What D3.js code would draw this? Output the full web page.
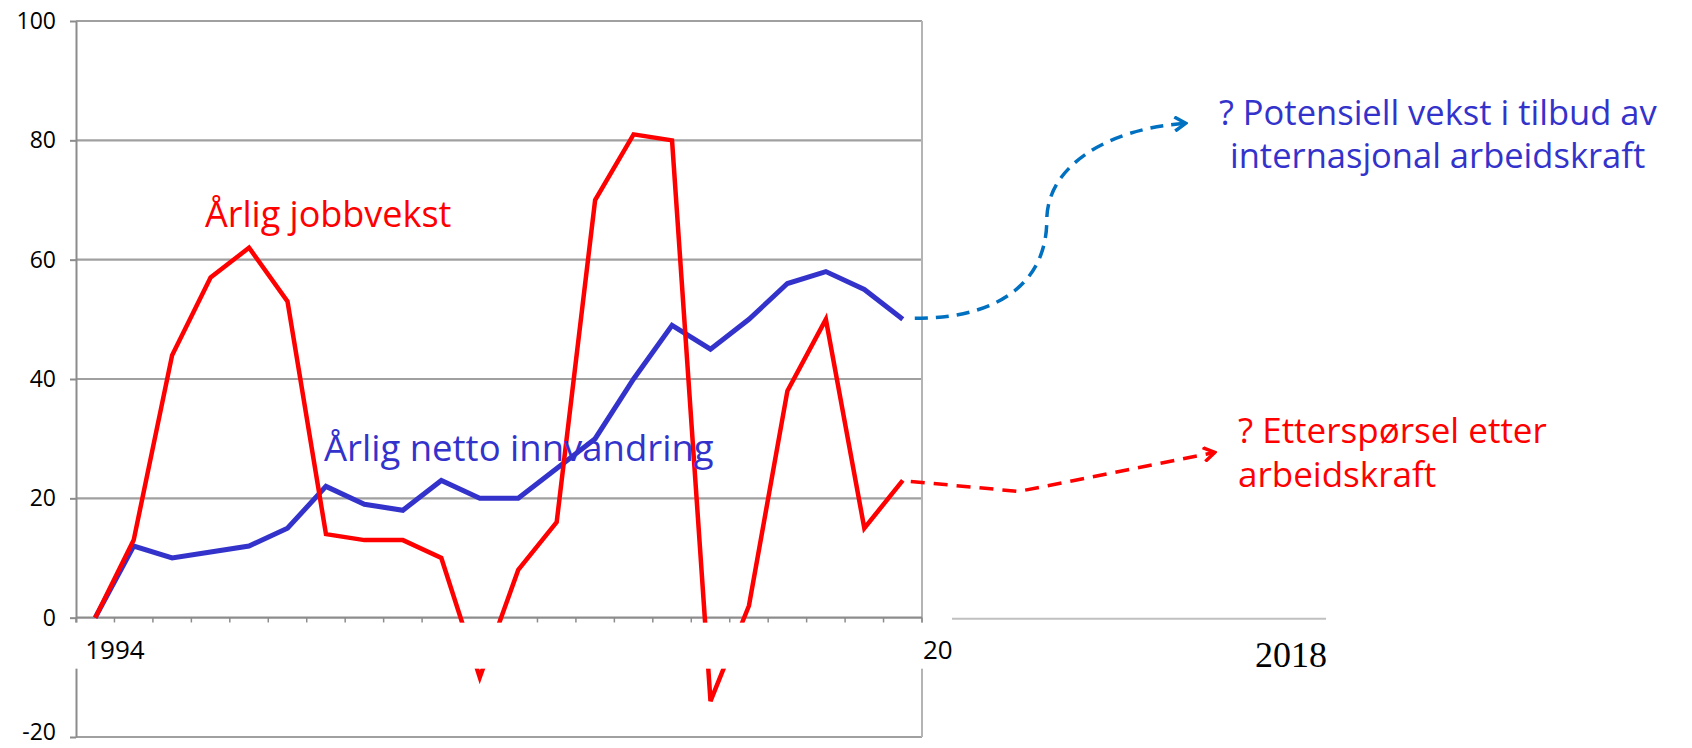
<!DOCTYPE html>
<html>
<head>
<meta charset="utf-8">
<script src="https://cdn.jsdelivr.net/npm/d3@7"></script>
<style>
  body { margin: 0; background: #fff; }
  text { font-family: "Open Sans", "Noto Sans", sans-serif; }
</style>
</head>
<body>
<div id="chart"></div>
<script>
const years = [1994, 1995, 1996, 1997, 1998, 1999, 2000, 2001, 2002, 2003, 2004,
  2005, 2006, 2007, 2008, 2009, 2010, 2011, 2012, 2013, 2014, 2015];
const jobGrowth = [0, 13, 44, 57, 62, 53, 14, 13, 13, 10, -10, 8, 16, 70, 81, 80,
  -14, 2, 38, 50, 15, 23];
const netImmigration = [0, 12, 10, 11, 12, 15, 22, 19, 18, 23, 20, 20, 25, 30, 40,
  49, 45, 50, 56, 58, 55, 50];
const yTicks = [-20, 0, 20, 40, 60, 80, 100];

const width = 1692,
  height = 748;
const plot = { left: 76, right: 922, top: 21, bottom: 737 };

const x = d3.scaleBand().domain(years).range([plot.left, plot.right]);
const cx = (d) => x(d) + x.bandwidth() / 2;
const y = d3.scaleLinear().domain([-20, 100]).range([plot.bottom, plot.top]);

const svg = d3
  .select("#chart")
  .append("svg")
  .attr("width", width)
  .attr("height", height);

const defs = svg.append("defs");
const addArrow = (id, color) => {
  defs
    .append("marker")
    .attr("id", id)
    .attr("viewBox", "-12 -8 14 16")
    .attr("markerWidth", 14)
    .attr("markerHeight", 16)
    .attr("markerUnits", "userSpaceOnUse")
    .attr("refX", 0)
    .attr("refY", 0)
    .attr("orient", "auto")
    .append("path")
    .attr("d", "M-11,-7L0,0L-11,7")
    .attr("fill", "none")
    .attr("stroke", color)
    .attr("stroke-width", 3.5);
};
addArrow("arrowBlue", "#0070c0");
addArrow("arrowRed", "#ff0000");

// grid lines
svg
  .selectAll(".grid")
  .data(yTicks.filter((d) => d !== 0))
  .enter()
  .append("line")
  .attr("class", "grid")
  .attr("x1", plot.left)
  .attr("x2", plot.right)
  .attr("y1", (d) => y(d))
  .attr("y2", (d) => y(d))
  .attr("stroke", "#a0a0a0")
  .attr("stroke-width", 2.2);

// right plot border
svg
  .append("line")
  .attr("x1", plot.right)
  .attr("x2", plot.right)
  .attr("y1", plot.top)
  .attr("y2", plot.bottom)
  .attr("stroke", "#b4b4b4")
  .attr("stroke-width", 2);

// y axis
const yAxis = svg
  .append("g")
  .attr("transform", `translate(${plot.left},0)`)
  .call(
    d3
      .axisLeft(y)
      .tickValues(yTicks)
      .tickFormat((d) => String(d))
      .tickSize(6)
      .tickSizeOuter(0)
      .tickPadding(14)
  );
yAxis.select(".domain").attr("stroke", "#8c8c8c").attr("stroke-width", 2);
yAxis.selectAll(".tick line").attr("stroke", "#8c8c8c").attr("stroke-width", 2);
yAxis
  .selectAll(".tick text")
  .attr("font-family", "Open Sans")
  .attr("font-size", 23)
  .attr("fill", "#000")
  .attr("dy", (d) => (d === -20 ? "0.12em" : "0.32em"));

// zero axis with category ticks
svg
  .append("line")
  .attr("x1", plot.left)
  .attr("x2", plot.right)
  .attr("y1", y(0))
  .attr("y2", y(0))
  .attr("stroke", "#8c8c8c")
  .attr("stroke-width", 2.2);
svg
  .selectAll(".xtick")
  .data(years.concat(["end"]))
  .enter()
  .append("line")
  .attr("class", "xtick")
  .attr("x1", (d) => (d === "end" ? plot.right : x(d)))
  .attr("x2", (d) => (d === "end" ? plot.right : x(d)))
  .attr("y1", y(0))
  .attr("y2", y(0) + 5)
  .attr("stroke", "#8c8c8c")
  .attr("stroke-width", 1.5);

// series
const line = (values) =>
  d3
    .line()
    .x((d, i) => cx(years[i]))
    .y((d) => y(d))(values);

svg
  .append("path")
  .attr("d", line(netImmigration))
  .attr("fill", "none")
  .attr("stroke", "#3333cc")
  .attr("stroke-width", 5);

svg
  .append("path")
  .attr("d", line(jobGrowth))
  .attr("fill", "none")
  .attr("stroke", "#ff0000")
  .attr("stroke-width", 4.5);

// white band hiding the category axis
svg
  .append("rect")
  .attr("x", 60)
  .attr("y", y(0) + 5)
  .attr("width", 1300)
  .attr("height", 46)
  .attr("fill", "#fff");

// extended zero line to 2018
svg
  .append("line")
  .attr("x1", plot.right + 30)
  .attr("x2", plot.right + 404)
  .attr("y1", y(0) + 1)
  .attr("y2", y(0) + 1)
  .attr("stroke", "#c0c0c0")
  .attr("stroke-width", 2);

svg
  .append("text")
  .attr("x", cx(years[0]) - 10)
  .attr("y", 659)
  .attr("font-size", 26)
  .text(years[0]);
svg
  .append("text")
  .attr("x", plot.right + 1)
  .attr("y", 659)
  .attr("font-size", 26)
  .text("20");
svg
  .append("text")
  .attr("x", 1255)
  .attr("y", 667)
  .style("font-family", '"Liberation Serif", "Times New Roman", serif')
  .attr("font-size", 36)
  .text("2018");

// projections
const lastX = cx(years[years.length - 1]);
const lastBlue = y(netImmigration[netImmigration.length - 1]);
const lastRed = y(jobGrowth[jobGrowth.length - 1]);

svg
  .append("path")
  .attr(
    "d",
    `M${lastX + 12},${lastBlue - 1} C${lastX + 105},${lastBlue - 1} ${lastX + 144},${lastBlue - 44} ${lastX + 144},${lastBlue - 99}` +
      ` C${lastX + 144},${lastBlue - 154} ${lastX + 206},${lastBlue - 191} ${lastX + 283},${lastBlue - 196}`
  )
  .attr("fill", "none")
  .attr("stroke", "#0070c0")
  .attr("stroke-width", 3.5)
  .attr("stroke-dasharray", "13,8")
  .attr("marker-end", "url(#arrowBlue)");

svg
  .append("path")
  .attr(
    "d",
    `M${lastX + 8},${lastRed + 1} L${lastX + 116},${lastRed + 11} L${lastX + 312},${lastRed - 28}`
  )
  .attr("fill", "none")
  .attr("stroke", "#ff0000")
  .attr("stroke-width", 3.5)
  .attr("stroke-dasharray", "14,9")
  .attr("marker-end", "url(#arrowRed)");

// labels
const label = (tx, ty, size, color, str) =>
  svg
    .append("text")
    .attr("x", tx)
    .attr("y", ty)
    .attr("font-size", size)
    .attr("fill", color)
    .text(str);

label(205, 227, 36, "#ff0000", "Årlig jobbvekst");
label(324, 461, 36.5, "#3333cc", "Årlig netto innvandring");
label(1219, 125, 34.5, "#3333cc", "? Potensiell vekst i tilbud av");
label(1230, 168, 34.5, "#3333cc", "internasjonal arbeidskraft");
label(1238, 443, 35, "#ff0000", "? Etterspørsel etter");
label(1238, 487, 35, "#ff0000", "arbeidskraft");
</script>
</body>
</html>
